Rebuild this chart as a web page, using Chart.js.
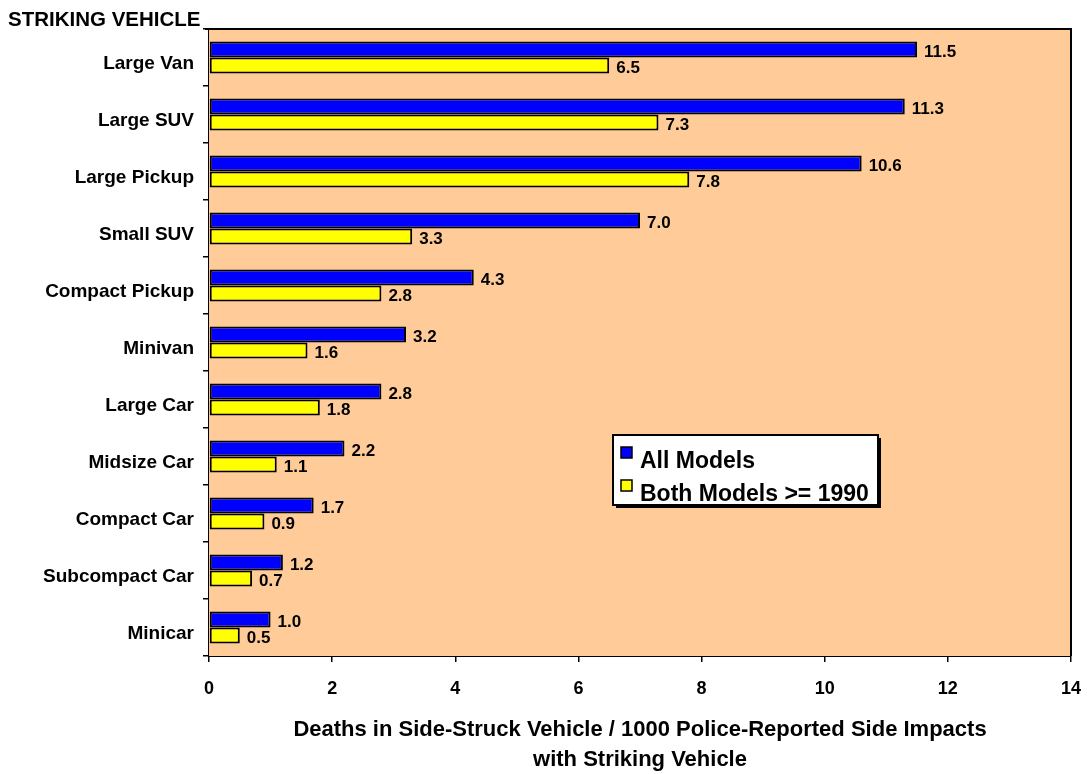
<!DOCTYPE html>
<html>
<head>
<meta charset="utf-8">
<title>Striking vehicle side impact deaths</title>
<script src="https://cdn.jsdelivr.net/npm/chart.js@4.4.1/dist/chart.umd.min.js"></script>
<style>
  html, body { margin: 0; padding: 0; background: #fff; }
  canvas { display: block; }
</style>
</head>
<body>
<canvas id="chart" width="1089" height="774"></canvas>
<script>
// ── Data ──────────────────────────────────────────────────────────────────────
const vehicles   = ["Large Van","Large SUV","Large Pickup","Small SUV","Compact Pickup",
                    "Minivan","Large Car","Midsize Car","Compact Car","Subcompact Car","Minicar"];
const allModels  = [11.5, 11.3, 10.6, 7.0, 4.3, 3.2, 2.8, 2.2, 1.7, 1.2, 1.0];
const both1990   = [6.5, 7.3, 7.8, 3.3, 2.8, 1.6, 1.8, 1.1, 0.9, 0.7, 0.5];
const seriesNames = ["All Models", "Both Models >= 1990"];
const xTitle     = ["Deaths in Side-Struck Vehicle / 1000 Police-Reported Side Impacts",
                    "with Striking Vehicle"];
const yTitle     = "STRIKING VEHICLE";

// ── Look ──────────────────────────────────────────────────────────────────────
const FONT   = "'Liberation Sans', Arial, Helvetica, sans-serif";
const BLUE   = "#0000ff";
const YELLOW = "#ffff00";
const PLOT_BG = "#ffcc99";

// plot background + frame, data labels, axis titles, legend box
const decor = {
  id: "decor",
  beforeDatasetsDraw(chart) {
    const { ctx, chartArea: a } = chart;
    ctx.save();
    ctx.fillStyle = PLOT_BG;
    ctx.fillRect(a.left, a.top, a.right - a.left, a.bottom - a.top);
    ctx.restore();
  },
  afterDatasetsDraw(chart) {
    const { ctx } = chart;
    ctx.save();
    ctx.font = `bold 17px ${FONT}`;
    ctx.fillStyle = "#000";
    ctx.textAlign = "left";
    ctx.textBaseline = "middle";
    chart.data.datasets.forEach((ds, i) => {
      chart.getDatasetMeta(i).data.forEach((bar, j) => {
        ctx.fillText(ds.data[j].toFixed(1), bar.x + 7, bar.y + 3);
      });
    });
    ctx.restore();
  },
  afterDraw(chart) {
    const { ctx, chartArea: a } = chart;
    ctx.save();
    // frame top + right
    ctx.strokeStyle = "#000";
    ctx.lineWidth = 2;
    ctx.beginPath();
    ctx.moveTo(a.left - 4, a.top);
    ctx.lineTo(a.right, a.top);
    ctx.lineTo(a.right, a.bottom);
    ctx.stroke();

    // y title (top left)
    ctx.fillStyle = "#000";
    ctx.font = `bold 20.5px ${FONT}`;
    ctx.textAlign = "left";
    ctx.textBaseline = "middle";
    ctx.fillText(yTitle, 8, 20);

    // x title
    ctx.font = `bold 22px ${FONT}`;
    ctx.textAlign = "center";
    const cx = (a.left + a.right) / 2;
    ctx.fillText(xTitle[0], cx, 730);
    ctx.fillText(xTitle[1], cx, 760);

    // legend
    const lx = 613, ly = 435, lw = 265, lh = 70;
    ctx.fillStyle = "#000";
    ctx.fillRect(lx + 3, ly + 3, lw, lh);
    ctx.fillStyle = "#fff";
    ctx.fillRect(lx, ly, lw, lh);
    ctx.lineWidth = 2;
    ctx.strokeRect(lx, ly, lw, lh);
    const swatches = [BLUE, YELLOW];
    ctx.font = `bold 23px ${FONT}`;
    ctx.textAlign = "left";
    seriesNames.forEach((name, i) => {
      const y = ly + 17 + i * 33;
      ctx.fillStyle = swatches[i];
      ctx.fillRect(621, y - 5, 11, 11);
      ctx.lineWidth = 1.5;
      ctx.strokeStyle = "#000";
      ctx.strokeRect(621, y - 5, 11, 11);
      ctx.fillStyle = "#000";
      ctx.fillText(name, 640, y + 10);
    });
    ctx.restore();
  }
};

new Chart(document.getElementById("chart"), {
  type: "bar",
  data: {
    labels: vehicles,
    datasets: [
      { label: seriesNames[0], data: allModels, backgroundColor: BLUE,
        borderColor: "#000", borderWidth: 2, borderSkipped: false },
      { label: seriesNames[1], data: both1990, backgroundColor: YELLOW,
        borderColor: "#000", borderWidth: 2, borderSkipped: false },
    ]
  },
  options: {
    indexAxis: "y",
    responsive: false,
    animation: false,
    layout: { padding: { top: 29, right: 18, left: 0, bottom: 0 } },
    datasets: { bar: { categoryPercentage: 0.56, barPercentage: 1.0 } },
    plugins: { legend: { display: false }, tooltip: { enabled: false } },
    scales: {
      x: {
        min: 0, max: 14,
        // fixed height, and no extra side padding for the end labels
        afterFit: s => { s.height = 118; s.paddingLeft = 0; s.paddingRight = 0; },
        ticks: { stepSize: 2, color: "#000", padding: 16,
                 font: { family: FONT, size: 18, weight: "bold" } },
        grid: { drawOnChartArea: false, color: "#000", tickLength: 6, lineWidth: 1.5 },
        border: { color: "#000", width: 2 },
      },
      y: {
        afterFit: s => { s.width = 209; },
        ticks: { color: "#000", padding: 9, labelOffset: 6,
                 font: { family: FONT, size: 19, weight: "bold" } },
        grid: { drawOnChartArea: false, offset: true, color: "#000", tickLength: 6, lineWidth: 1.5 },
        border: { color: "#000", width: 2 },
      }
    }
  },
  plugins: [decor]
});
</script>
</body>
</html>
